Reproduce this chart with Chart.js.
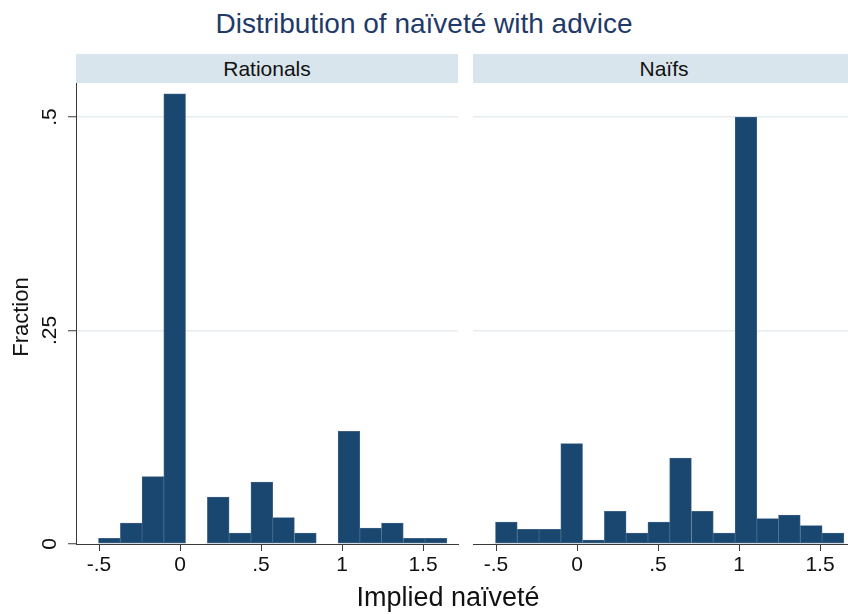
<!DOCTYPE html>
<html>
<head>
<meta charset="utf-8">
<script src="https://cdn.jsdelivr.net/npm/chart.js@4.4.1/dist/chart.umd.min.js"></script>
<style>
  html, body { margin: 0; padding: 0; background: #fff; overflow: hidden; width: 848px; height: 614px; }
  body { position: relative; font-family: "Liberation Sans", Arial, Helvetica, sans-serif; }
  #title { position: absolute; left: 0; top: 10px; width: 848px; text-align: center;
           font-size: 28px; line-height: 28px; color: #1f3a68; white-space: nowrap; }
  .strip { position: absolute; top: 54px; height: 29px; background: #d9e5ec; color: #111;
           font-size: 21px; line-height: 29px; text-align: center; white-space: nowrap; overflow: hidden; }
  #stripL { left: 76px; width: 382px; }
  #stripR { left: 473px; width: 382px; }
  canvas { position: absolute; top: 83px; }
  #panelL { left: 0; }
  #panelR { left: 460px; }
  #xTitle { position: absolute; left: 0; width: 896px; top: 584px; text-align: center;
            font-size: 27px; line-height: 27px; color: #111; white-space: nowrap; }
  #yTitle { position: absolute; left: -79px; top: 306px; width: 200px; height: 22px; text-align: center;
            font-size: 22px; line-height: 22px; color: #111; transform: rotate(-90deg); white-space: nowrap; }
</style>
</head>
<body>
<div id="title">Distribution of naïveté with advice</div>
<div class="strip" id="stripL">Rationals</div>
<div class="strip" id="stripR">Naïfs</div>
<canvas id="panelL" width="460" height="500"></canvas>
<canvas id="panelR" width="395" height="500"></canvas>
<div id="xTitle">Implied naïveté</div>
<div id="yTitle">Fraction</div>
<script>
// Histogram bin midpoints (implied naïveté)
const binCenters = [-0.436, -0.301, -0.167, -0.033, 0.102, 0.236, 0.371, 0.505,
                    0.639, 0.774, 0.908, 1.043, 1.177, 1.311, 1.446, 1.580];

// Fraction of each group falling in each bin
const rationals = [0.0066, 0.0246, 0.0788, 0.527, 0, 0.055, 0.0129, 0.0726,
                   0.031, 0.0129, 0, 0.132, 0.0187, 0.0246, 0.0066, 0.0066];
const naifs = [0.0258, 0.0172, 0.0172, 0.1175, 0.0047, 0.0383, 0.0129, 0.0258,
               0.1007, 0.0383, 0.0129, 0.5, 0.0297, 0.034, 0.0215, 0.0129];

const xTicks = [-0.5, 0, 0.5, 1, 1.5];
const yTicks = [0, 0.25, 0.5];

const BAR_FILL = '#1a476f';
const BAR_EDGE = '#47698d';
const AXIS = '#3a3a3a';
const GRID = '#e6edf1';
const FONT = '"Liberation Sans", Arial, Helvetica, sans-serif';

// Stata-style labels: drop the leading zero (.5, -.5, .25)
function fmt(v) {
  if (v === 0) return '0';
  return String(v).replace(/^(-?)0\./, '$1.');
}

function drawPanel(id, values, withAxis) {
  return new Chart(document.getElementById(id), {
    type: 'bar',
    data: {
      datasets: [{
        data: binCenters.map((x, i) => ({ x: x, y: values[i] === 0 ? null : values[i] })),
        backgroundColor: BAR_FILL,
        borderColor: BAR_EDGE,
        borderWidth: 0.75,
        borderSkipped: false,
        barPercentage: 1,
        categoryPercentage: 1
      }]
    },
    options: {
      responsive: false,
      animation: false,
      devicePixelRatio: 1,
      events: [],
      layout: { padding: { left: 0, right: withAxis ? 2 : 0, top: 0, bottom: 0 } },
      plugins: { legend: { display: false }, tooltip: { enabled: false }, title: { display: false } },
      scales: {
        x: {
          type: 'linear',
          min: -0.642,
          max: 1.716,
          offset: false,
          afterBuildTicks: s => { s.ticks = xTicks.map(v => ({ value: v })); },
          ticks: {
            autoSkip: false, maxRotation: 0, minRotation: 0,
            callback: v => fmt(v),
            color: '#111',
            font: { family: FONT, size: 21 },
            padding: 2
          },
          grid: { offset: false, drawOnChartArea: false, drawTicks: true, tickLength: 7, tickColor: AXIS, tickWidth: 1 },
          border: { display: true, color: AXIS, width: 1 },
          afterFit: s => { s.height = 39; s.paddingLeft = 0; s.paddingRight = 0; }
        },
        y: {
          type: 'linear',
          min: 0,
          max: 0.5398,
          afterBuildTicks: s => { s.ticks = yTicks.map(v => ({ value: v })); },
          ticks: {
            display: withAxis,
            autoSkip: false,
            minRotation: 90, maxRotation: 90,
            crossAlign: 'center',
            callback: v => fmt(v),
            color: '#111',
            font: { family: FONT, size: 21 },
            padding: 3
          },
          grid: {
            offset: false,
            drawOnChartArea: true,
            drawTicks: withAxis,
            tickLength: 8,
            tickColor: AXIS,
            tickWidth: 1,
            lineWidth: 1.5,
            color: c => (c.tick && c.tick.value === 0) ? 'rgba(0,0,0,0)' : GRID
          },
          border: { display: withAxis, color: AXIS, width: 1 },
          afterFit: s => { s.width = withAxis ? 76 : 13; s.paddingTop = 0; s.paddingBottom = 0; }
        }
      }
    }
  });
}

drawPanel('panelL', rationals, true);
drawPanel('panelR', naifs, false);
</script>
</body>
</html>
